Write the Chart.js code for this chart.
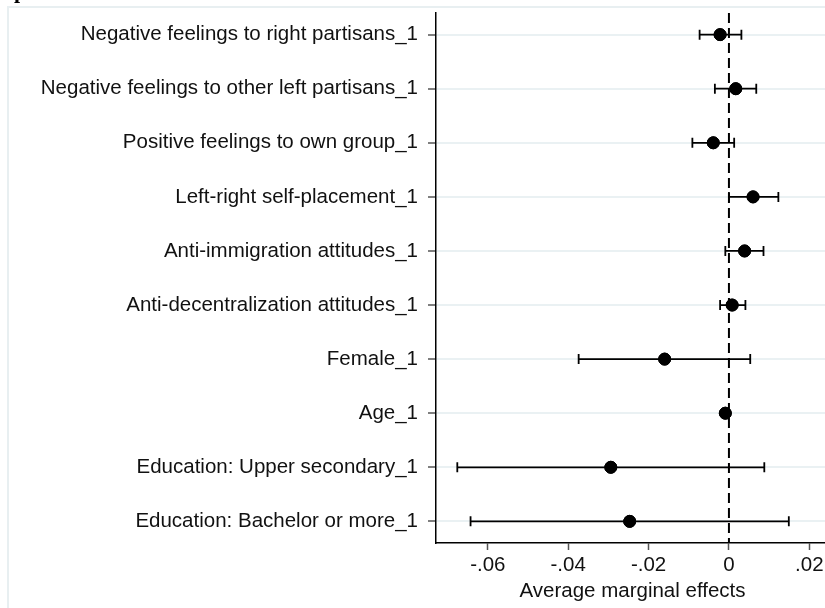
<!DOCTYPE html>
<html>
<head>
<meta charset="utf-8">
<script src="https://cdn.jsdelivr.net/npm/chart.js@4"></script>
<style>
  html, body { margin: 0; padding: 0; background: #fff; overflow: hidden; }
  #wrap { position: relative; width: 836px; height: 608px; }
  #head {
    position: absolute; left: 14px; top: -20px;
    font: bold 22px/22px "Liberation Serif", "Times New Roman", serif;
    color: #000; white-space: nowrap;
  }
</style>
</head>
<body>
<div id="wrap">
  <canvas id="myChart" width="836" height="608"></canvas>
  <div id="head">partisans were considered</div>
</div>
<script>
// Rows, top to bottom
const labels = [
  "Negative feelings to right partisans_1",
  "Negative feelings to other left partisans_1",
  "Positive feelings to own group_1",
  "Left-right self-placement_1",
  "Anti-immigration attitudes_1",
  "Anti-decentralization attitudes_1",
  "Female_1",
  "Age_1",
  "Education: Upper secondary_1",
  "Education: Bachelor or more_1",
];

// Average marginal effects and 95% CI bounds
const estimates = [-0.0022, 0.0017, -0.0039, 0.0060, 0.0039, 0.0008, -0.0160, -0.0009, -0.0294, -0.0247];
const ciLow = [-0.0073, -0.0035, -0.0091, 0.0000, -0.0009, -0.0022, -0.0374, -0.0013, -0.0676, -0.0643];
const ciHigh = [0.0031, 0.0068, 0.0013, 0.0123, 0.0086, 0.0041, 0.0053, -0.0005, 0.0088, 0.0149];

const xTicks = [-0.06, -0.04, -0.02, 0, 0.02];

const FONT = "Liberation Sans, Arial, sans-serif";

function fmtTick(v) {
  if (Math.abs(v) < 1e-9) return "0";
  return v.toFixed(2).replace("0.", ".");
}

// light outer frame like the plot region border
const framePlugin = {
  id: "frame",
  beforeDraw(chart) {
    const ctx = chart.ctx;
    ctx.save();
    ctx.strokeStyle = "#e8eff1";
    ctx.lineWidth = 2;
    ctx.beginPath();
    ctx.moveTo(8, chart.height);
    ctx.lineTo(8, 7);
    ctx.lineTo(chart.width, 7);
    ctx.stroke();
    ctx.restore();
  },
};

// horizontal confidence interval bars with caps
const ciPlugin = {
  id: "ciBars",
  afterDatasetsDraw(chart) {
    const ctx = chart.ctx;
    const xs = chart.scales.x;
    const ys = chart.scales.y;
    ctx.save();
    ctx.strokeStyle = "#000";
    ctx.lineWidth = 1.8;
    for (let i = 0; i < labels.length; i++) {
      const y = ys.getPixelForValue(i + 1);
      const x0 = xs.getPixelForValue(ciLow[i]);
      const x1 = xs.getPixelForValue(ciHigh[i]);
      ctx.beginPath();
      ctx.moveTo(x0, y);
      ctx.lineTo(x1, y);
      ctx.moveTo(x0, y - 5);
      ctx.lineTo(x0, y + 5);
      ctx.moveTo(x1, y - 5);
      ctx.lineTo(x1, y + 5);
      ctx.stroke();
    }
    ctx.restore();
    // redraw points above the bars
    chart.getDatasetMeta(1).controller.draw();
  },
};

const ctx = document.getElementById("myChart").getContext("2d");

new Chart(ctx, {
  type: "scatter",
  data: {
    datasets: [
      {
        // zero reference line
        type: "line",
        data: [
          { x: 0, y: 0.6 },
          { x: 0, y: 10.4 },
        ],
        borderColor: "#000",
        borderWidth: 2,
        borderDash: [10, 5],
        pointRadius: 0,
        fill: false,
      },
      {
        data: estimates.map((v, i) => ({ x: v, y: i + 1 })),
        backgroundColor: "#000",
        borderColor: "#000",
        pointRadius: 6,
        pointHoverRadius: 6,
      },
    ],
  },
  options: {
    responsive: false,
    animation: false,
    events: [],
    layout: { padding: { top: 13, left: 0, right: 0, bottom: 0 } },
    plugins: {
      legend: { display: false },
      tooltip: { enabled: false },
    },
    scales: {
      x: {
        type: "linear",
        min: -0.0729,
        max: 0.0249,
        afterBuildTicks: (axis) => {
          axis.ticks = xTicks.map((v) => ({ value: v }));
        },
        afterFit: (axis) => {
          axis.height = 65;
          axis.paddingLeft = 0;
          axis.paddingRight = 0;
        },
        border: { color: "#000", width: 1.5 },
        grid: {
          drawOnChartArea: false,
          tickLength: 7,
          tickColor: "#555",
          tickWidth: 1.5,
        },
        ticks: {
          callback: (v) => fmtTick(v),
          color: "#111",
          padding: 3,
          maxRotation: 0,
          font: { family: FONT, size: 20.5 },
        },
        title: {
          display: true,
          text: "Average marginal effects",
          color: "#111",
          padding: { top: 0, bottom: 4 },
          font: { family: FONT, size: 20.5 },
        },
      },
      y: {
        type: "linear",
        reverse: true,
        min: 0.6,
        max: 10.4,
        afterBuildTicks: (axis) => {
          axis.ticks = labels.map((_, i) => ({ value: i + 1 }));
        },
        afterFit: (axis) => {
          axis.width = 436;
          axis.paddingTop = 0;
          axis.paddingBottom = 0;
        },
        border: { color: "#000", width: 1.5 },
        grid: {
          color: "#eaf1f3",
          lineWidth: 2,
          tickLength: 8,
          tickColor: "#555",
          tickWidth: 1.5,
        },
        ticks: {
          callback: (v) => labels[v - 1],
          color: "#111",
          padding: 10,
          font: { family: FONT, size: 20.5 },
        },
      },
    },
  },
  plugins: [framePlugin, ciPlugin],
});
</script>
</body>
</html>
